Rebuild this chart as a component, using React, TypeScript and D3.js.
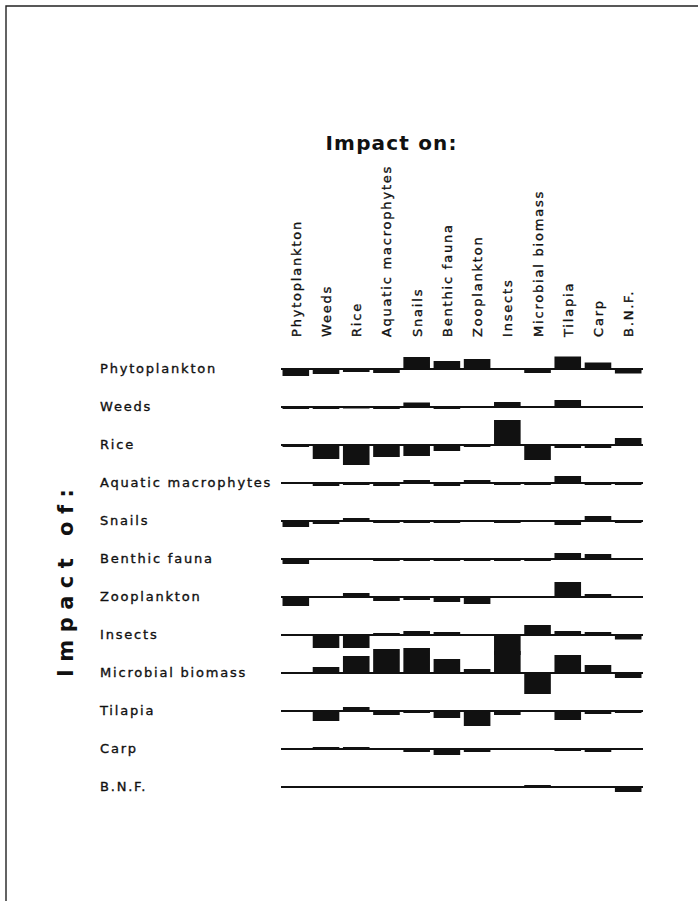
import React, { useEffect, useRef } from 'react';
import * as d3 from 'd3';

// species, used for both axes
const impactOf = [
  "Phytoplankton", "Weeds", "Rice", "Aquatic macrophytes", "Snails", "Benthic fauna",
  "Zooplankton", "Insects", "Microbial biomass", "Tilapia", "Carp", "B.N.F.",
];
const impactOn = [
  "Phytoplankton", "Weeds", "Rice", "Aquatic macrophytes", "Snails", "Benthic fauna",
  "Zooplankton", "Insects", "Microbial biomass", "Tilapia", "Carp", "B.N.F.",
];

// relative impact (0-10 scale), one array per "impact of" row, in impactOn order
const phytoplanktonRow = [-2.8, -2, -1.2, -1.6, 4.8, 3.2, 4, 0, -1.6, 5, 2.6, -1.8];
const weedsRow = [-0.8, -0.8, -0.6, -0.8, 1.8, -0.8, -0.4, 2, 0, 2.8, -0.4, -0.4];
const riceRow = [-0.8, -5.6, -8, -4.8, -4.4, -2.4, -0.8, 10, -6, -1.2, -1.2, 2.8];
const macrophytesRow = [0, -1.2, -0.8, -1.2, 1.2, -1.2, 1.2, -0.8, -0.8, 2.8, -0.8, -0.8];
const snailsRow = [-2.4, -1.2, 1.2, -0.8, -0.8, -0.8, -0.4, -0.8, 0, -1.6, 2, -0.8];
const benthicRow = [-2, 0, 0.4, -0.8, -0.8, -0.8, -0.8, -0.8, -0.8, 2.4, 2, 0];
const zooplanktonRow = [-3.6, -0.4, 1.6, -1.6, -1.2, -2, -2.8, -0.4, 0, 6, 1.2, 0];
const insectsRow = [0, -5.2, -5.2, 0.8, 1.6, 1.2, 0, -8, 4, 1.6, 1.2, -1.8];
const microbialRow = [0, 2.4, 6.8, 9.6, 10, 5.6, 1.6, 8.8, -8.4, 7.2, 3.2, -2];
const tilapiaRow = [0, -4, 1.6, -1.6, -0.8, -2.8, -6, -1.6, 0, -3.6, -1.2, -0.8];
const carpRow = [0, 0.8, 0.8, 0, -1.2, -2.4, -1.2, -0.4, 0, -0.8, -1.2, 0];
const bnfRow = [-0.4, 0.4, -0.4, -0.4, -0.4, -0.4, -0.4, 0, 0.8, 0, 0, -2];

const impacts = [
  phytoplanktonRow, weedsRow, riceRow, macrophytesRow, snailsRow, benthicRow,
  zooplanktonRow, insectsRow, microbialRow, tilapiaRow, carpRow, bnfRow,
];

const W = 698;
const H = 901;
const labelFont = "'DejaVu Sans', sans-serif";

export default function App() {
  const svgRef = useRef<SVGSVGElement>(null);

  useEffect(() => {
    if (!svgRef.current) return;
    const svg = d3.select(svgRef.current);
    svg.selectAll("*").remove();

    const x = d3.scaleBand<string>()
      .domain(impactOn)
      .range([281, 643])
      .paddingInner(0.12)
      .paddingOuter(0.05);
    const y = d3.scalePoint<string>().domain(impactOf).range([369, 787]);
    const h = d3.scaleLinear().domain([0, 10]).range([0, 25]);

    svg.append("rect").attr("width", W).attr("height", H).attr("fill", "#fff");

    // frame (left and top edges only)
    svg.append("path")
      .attr("d", `M6,${H} L6,6 L${W},6`)
      .attr("fill", "none")
      .attr("stroke", "#222")
      .attr("stroke-width", 1.4);

    // titles
    svg.append("text")
      .attr("x", 391)
      .attr("y", 150)
      .attr("text-anchor", "middle")
      .attr("font-family", labelFont)
      .attr("font-weight", "bold")
      .attr("font-size", 20)
      .attr("textLength", 131)
      .attr("lengthAdjust", "spacing")
      .attr("fill", "#111")
      .text("Impact on:");

    svg.append("text")
      .attr("transform", "translate(73,583) rotate(-90)")
      .attr("text-anchor", "middle")
      .attr("font-family", labelFont)
      .attr("font-weight", "bold")
      .attr("font-size", 21)
      .attr("textLength", 188)
      .attr("lengthAdjust", "spacing")
      .attr("fill", "#111")
      .text("Impact of:");

    // column labels
    svg.append("g")
      .selectAll("text")
      .data(impactOn)
      .enter()
      .append("text")
      .attr("transform", d => `translate(${(x(d) || 0) + x.bandwidth() / 2 + 5},337) rotate(-90)`)
      .attr("font-family", labelFont)
      .attr("font-size", 13)
      .attr("letter-spacing", "1.8px")
      .attr("fill", "#111")
      .attr("stroke", "#111")
      .attr("stroke-width", 0.35)
      .text(d => d);

    // row labels
    svg.append("g")
      .selectAll("text")
      .data(impactOf)
      .enter()
      .append("text")
      .attr("x", 100)
      .attr("y", d => y(d) || 0)
      .attr("dy", "0.33em")
      .attr("font-family", labelFont)
      .attr("font-size", 13)
      .attr("letter-spacing", "1.8px")
      .attr("fill", "#111")
      .attr("stroke", "#111")
      .attr("stroke-width", 0.35)
      .text(d => d);

    // rows: baseline plus bars up (positive) or down (negative)
    const rows = svg.append("g")
      .selectAll("g")
      .data(impactOf)
      .enter()
      .append("g")
      .attr("transform", d => `translate(0,${y(d)})`);

    rows.append("line")
      .attr("x1", 281)
      .attr("x2", 643)
      .attr("stroke", "#111")
      .attr("stroke-width", 1.8);

    rows.selectAll("rect")
      .data((d, i) => impacts[i].map((v, j) => ({ on: impactOn[j], v })))
      .enter()
      .append("rect")
      .attr("x", d => x(d.on) || 0)
      .attr("width", x.bandwidth())
      .attr("y", d => (d.v > 0 ? -h(d.v) : 0))
      .attr("height", d => h(Math.abs(d.v)))
      .attr("fill", "#111");
  }, []);

  return (
    <svg
      ref={svgRef}
      width={W}
      height={H}
      style={{ position: 'absolute', left: 0, top: 0, display: 'block' }}
    />
  );
}
